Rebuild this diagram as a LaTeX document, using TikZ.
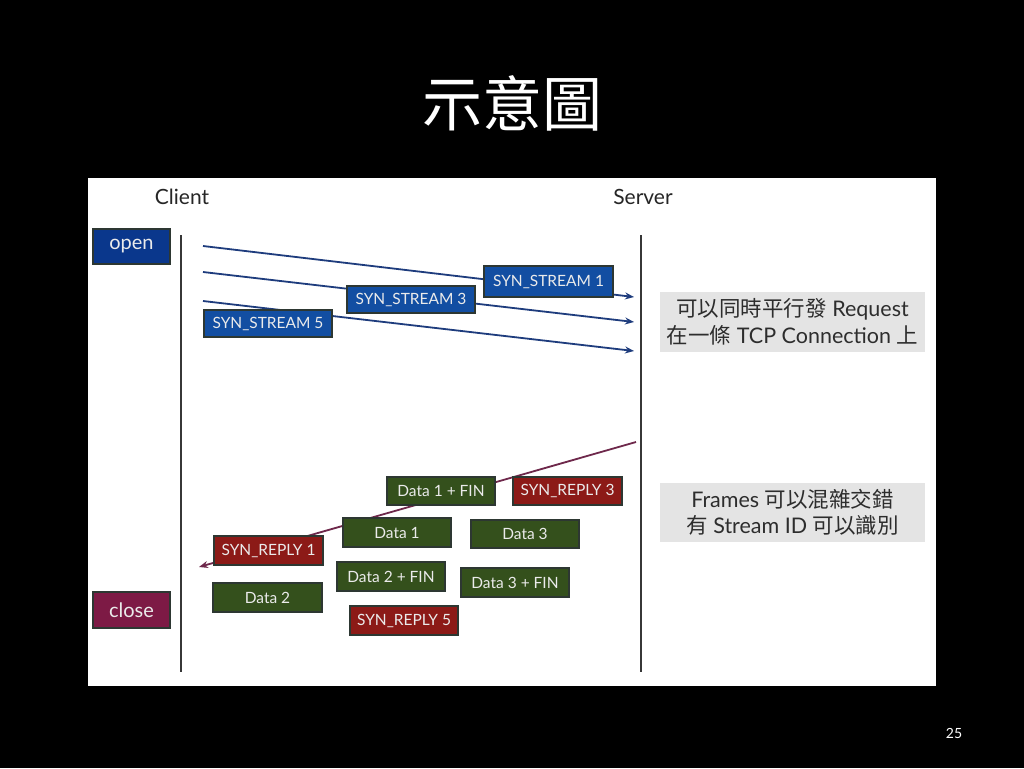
\documentclass[tikz,border=0pt]{standalone}
\usepackage{fontspec}
\setmainfont{Lato}
\newfontfamily\cjk{Noto Sans CJK TC}
\usetikzlibrary{arrows.meta}
\definecolor{openblue}{RGB}{10,55,140}
\definecolor{streamblue}{RGB}{18,78,162}
\definecolor{arrowblue}{RGB}{30,60,125}
\definecolor{boxedge}{RGB}{45,55,50}
\definecolor{framegreen}{RGB}{52,80,28}
\definecolor{replyred}{RGB}{140,26,23}
\definecolor{closemaroon}{RGB}{125,26,69}
\definecolor{retarrow}{RGB}{110,40,75}
\definecolor{notegray}{RGB}{228,228,228}
\definecolor{notetext}{RGB}{45,45,45}
\definecolor{boxtext}{RGB}{235,235,235}
\definecolor{lifeline}{RGB}{55,55,55}
\begin{document}
\begin{tikzpicture}[x=1pt,y=-1pt,
  fbox/.style={draw=boxedge,line width=1.2pt,inner sep=0pt,text=boxtext,font=\fontsize{15.5}{15.5}\selectfont},
  stream/.style={fbox,fill=streamblue},
  green/.style={fbox,fill=framegreen},
  reply/.style={fbox,fill=replyred},
  lbl/.style={inner sep=0pt,text=black!85,font=\fontsize{21}{21}\selectfont},
  note/.style={fill=notegray,inner sep=0pt,text=notetext,align=center,font=\fontsize{21.5}{26.5}\selectfont},
  life/.style={draw=lifeline,line width=2.2pt},
  barrow/.style={draw=arrowblue,line width=1.8pt,-{Stealth[length=9pt,width=7pt]}},
  rarrow/.style={draw=retarrow,line width=1.8pt,-{Stealth[length=9pt,width=7pt]}}]
\useasboundingbox (0,0) rectangle (1024,768);
\fill[black] (0,0) rectangle (1024,768);
\fill[white] (88,178) rectangle (936,686);
% title and page number
\node[text=white,inner sep=0pt,font=\cjk\fontsize{60}{60}\selectfont] (title) at (512,103) {示意圖};
\node[text=white,inner sep=0pt,font=\fontsize{14}{14}\selectfont] (page) at (954,733) {25};
% labels
\node[lbl] (client) at (182,197) {Client};
\node[lbl] (server) at (643,197) {Server};
% lifelines
\coordinate (ct) at (181,235);
\coordinate (cb) at (181,672);
\coordinate (st) at (641,235);
\coordinate (sb) at (641,672);
\draw[life] (ct) -- (cb);
\draw[life] (st) -- (sb);
% request arrows
\coordinate (a1s) at (203,246); \coordinate (a1e) at (634,297);
\coordinate (a2s) at (203,272); \coordinate (a2e) at (634,322);
\coordinate (a3s) at (203,301); \coordinate (a3e) at (634,351);
\draw[barrow] (a1s) -- (a1e);
\draw[barrow] (a2s) -- (a2e);
\draw[barrow] (a3s) -- (a3e);
% reply arrow
\coordinate (rs) at (636,442); \coordinate (re) at (199,567);
\draw[rarrow] (rs) -- (re);
% state boxes
\node[fbox,fill=openblue,minimum width=77pt,minimum height=35pt,font=\fontsize{20}{20}\selectfont] (open) at (131.5,246.5) {open};
\node[fbox,fill=closemaroon,minimum width=77pt,minimum height=36pt,font=\fontsize{20}{20}\selectfont] (close) at (131.5,610) {close};
% stream frames
\node[stream,minimum width=129pt,minimum height=31pt] (ss1) at (548.5,281.5) {SYN\_STREAM 1};
\node[stream,minimum width=128pt,minimum height=27pt] (ss3) at (411,299.5) {SYN\_STREAM 3};
\node[stream,minimum width=128pt,minimum height=27pt] (ss5) at (268,323.5) {SYN\_STREAM 5};
% notes
\node[note,minimum width=265pt,minimum height=60pt] (note1) at (792.5,322) {{\cjk 可以同時平行發} Request\\{\cjk 在一條} TCP Connection {\cjk 上}};
\node[note,minimum width=265pt,minimum height=59pt] (note2) at (792.5,512.5) {Frames {\cjk 可以混雜交錯}\\{\cjk 有} Stream ID {\cjk 可以識別}};
% reply frames
\node[green,minimum width=108pt,minimum height=28pt] (d1fin) at (441,491) {Data 1 + FIN};
\node[reply,minimum width=109pt,minimum height=28pt] (sr3) at (567.5,491) {SYN\_REPLY 3};
\node[green,minimum width=108pt,minimum height=29pt] (d1) at (397,532.5) {Data 1};
\node[green,minimum width=108pt,minimum height=28pt] (d3) at (525,534) {Data 3};
\node[reply,minimum width=109pt,minimum height=29pt] (sr1) at (268.5,550.5) {SYN\_REPLY 1};
\node[green,minimum width=108pt,minimum height=29pt] (d2fin) at (391,576.5) {Data 2 + FIN};
\node[green,minimum width=108pt,minimum height=29pt] (d3fin) at (515,582.5) {Data 3 + FIN};
\node[green,minimum width=109pt,minimum height=29pt] (d2) at (267.5,597.5) {Data 2};
\node[reply,minimum width=108pt,minimum height=29pt] (sr5) at (404,620.5) {SYN\_REPLY 5};
\end{tikzpicture}
\end{document}
